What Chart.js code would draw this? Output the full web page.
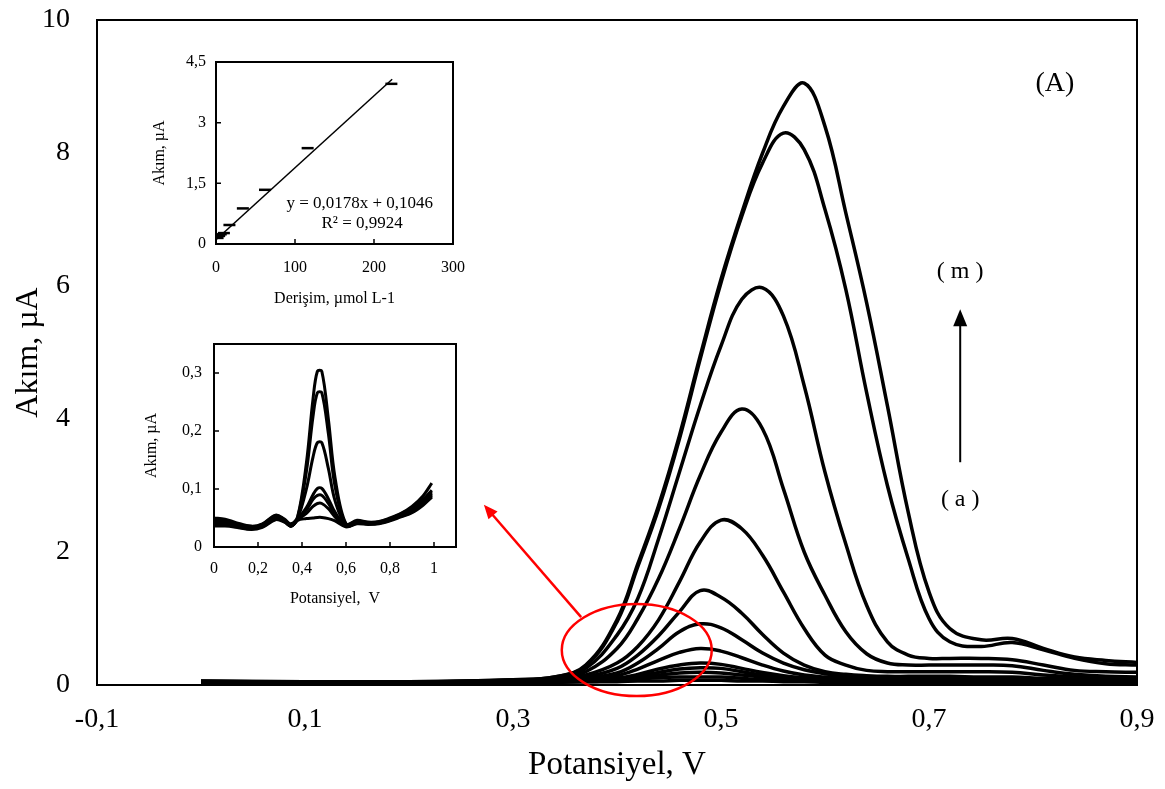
<!DOCTYPE html>
<html>
<head>
<meta charset="utf-8">
<script src="https://cdn.jsdelivr.net/npm/chart.js@4.4.1/dist/chart.umd.min.js"></script>
<style>
    body { margin: 0; background: #fff; }
    #wrap { position: relative; width: 1165px; height: 789px; }
    canvas { position: absolute; }
</style>
</head>
<body>
<div id="wrap">
    <canvas id="mainChart" width="1165" height="789" style="left:0;top:0"></canvas>
    <canvas id="calChart" width="360" height="280" style="left:120px;top:40px"></canvas>
    <canvas id="insetChart" width="360" height="300" style="left:120px;top:325px"></canvas>
</div>
<script>
// Ana voltamogram: potansiyel ekseni (V)
const potential = [0, 0.1, 0.2, 0.3, 0.34, 0.37, 0.40, 0.42, 0.44, 0.46, 0.48, 0.50, 0.52, 0.54, 0.56, 0.58, 0.60, 0.62, 0.64, 0.66, 0.68, 0.70, 0.72, 0.75, 0.78, 0.81, 0.84, 0.87, 0.90];

// Akım değerleri (µA), a -> m
const curveA = [0.03,0.03,0.03,0.04,0.04,0.05,0.05,0.06,0.06,0.07,0.07,0.07,0.06,0.06,0.05,0.05,0.04,0.04,0.04,0.04,0.04,0.04,0.04,0.04,0.04,0.04,0.04,0.04,0.04];
const curveB = [0.03,0.03,0.03,0.04,0.05,0.05,0.07,0.09,0.11,0.12,0.12,0.12,0.1,0.08,0.07,0.06,0.06,0.05,0.05,0.05,0.05,0.05,0.05,0.05,0.05,0.05,0.05,0.05,0.05];
const curveC = [0.03,0.03,0.03,0.04,0.05,0.06,0.08,0.11,0.15,0.18,0.19,0.18,0.15,0.12,0.09,0.08,0.07,0.06,0.06,0.06,0.06,0.06,0.06,0.06,0.06,0.06,0.05,0.05,0.05];
const curveD = [0.03,0.03,0.03,0.05,0.05,0.06,0.09,0.13,0.19,0.24,0.26,0.25,0.2,0.15,0.11,0.09,0.08,0.07,0.07,0.07,0.07,0.07,0.07,0.07,0.07,0.06,0.06,0.06,0.05];
const curveE = [0.04,0.03,0.04,0.05,0.05,0.07,0.1,0.16,0.24,0.3,0.33,0.31,0.25,0.19,0.14,0.11,0.09,0.08,0.08,0.08,0.08,0.08,0.08,0.08,0.08,0.07,0.07,0.06,0.06];
const curveF = [0.04,0.03,0.04,0.05,0.06,0.08,0.14,0.24,0.37,0.49,0.55,0.51,0.41,0.3,0.21,0.15,0.12,0.1,0.09,0.09,0.09,0.09,0.09,0.09,0.09,0.08,0.07,0.07,0.06];
const curveG = [0.04,0.04,0.04,0.05,0.06,0.1,0.18,0.33,0.55,0.8,0.92,0.86,0.68,0.48,0.33,0.23,0.17,0.13,0.11,0.1,0.1,0.1,0.1,0.1,0.1,0.09,0.08,0.07,0.07];
const curveH = [0.04,0.04,0.04,0.06,0.07,0.12,0.25,0.45,0.74,1.1,1.42,1.32,1.08,0.76,0.48,0.3,0.2,0.16,0.14,0.13,0.13,0.13,0.13,0.12,0.12,0.1,0.09,0.08,0.08];
const curveI = [0.04,0.04,0.04,0.06,0.08,0.15,0.33,0.58,0.98,1.55,2.15,2.48,2.35,1.95,1.4,0.85,0.45,0.3,0.22,0.2,0.2,0.2,0.2,0.2,0.19,0.15,0.12,0.1,0.1];
const curveJ = [0.05,0.04,0.04,0.06,0.09,0.2,0.55,1.0,1.6,2.35,3.15,3.8,4.15,3.85,2.95,2.0,1.35,0.8,0.47,0.33,0.3,0.3,0.3,0.3,0.29,0.22,0.16,0.13,0.12];
const curveK = [0.05,0.04,0.04,0.07,0.1,0.25,0.75,1.3,2.2,3.2,4.2,5.1,5.8,5.97,5.55,4.5,3.2,2.12,1.2,0.65,0.45,0.4,0.4,0.4,0.38,0.3,0.22,0.2,0.19];
const curveL = [0.06,0.05,0.05,0.08,0.12,0.29,0.95,1.78,2.65,3.7,4.9,6.05,7.05,7.85,8.3,8.05,7.15,5.95,4.4,3.0,1.9,1.0,0.65,0.58,0.64,0.53,0.4,0.32,0.3];
const curveM = [0.06,0.05,0.05,0.08,0.12,0.3,0.98,1.82,2.7,3.75,4.95,6.1,7.1,8.0,8.7,9.05,8.4,7.1,5.75,4.2,2.6,1.4,0.85,0.68,0.7,0.55,0.42,0.37,0.34];
const mainCurves = [curveA, curveB, curveC, curveD, curveE, curveF, curveG, curveH, curveI, curveJ, curveK, curveL, curveM];

const mainXTicks = [-0.1, 0.1, 0.3, 0.5, 0.7, 0.9];
const mainYTicks = [0, 2, 4, 6, 8, 10];

// Kalibrasyon grafiği (derişim µmol L-1, akım µA)
const calConc = [2, 4, 6, 10, 17, 34, 62, 116, 222];
const calCurrent = [0.15, 0.2, 0.24, 0.27, 0.47, 0.88, 1.34, 2.37, 3.96];
const trendConc = [0, 223];
const trendCurrent = [0.105, 4.074];
const calXTicks = [0, 100, 200, 300];
const calYTicks = [0, 1.5, 3, 4.5];

// Küçük voltamogram (düşük derişimler)
const insetPotential = [0, 0.05, 0.1, 0.17, 0.22, 0.28, 0.32, 0.35, 0.38, 0.42, 0.45, 0.47, 0.49, 0.52, 0.55, 0.6, 0.65, 0.7, 0.75, 0.8, 0.85, 0.9, 0.95, 0.99];
const low1 = [0.05,0.048,0.042,0.036,0.04,0.055,0.048,0.04,0.052,0.145,0.255,0.303,0.303,0.22,0.12,0.04,0.046,0.043,0.044,0.05,0.058,0.07,0.088,0.11];
const low2 = [0.048,0.046,0.04,0.035,0.039,0.054,0.047,0.038,0.051,0.13,0.225,0.266,0.266,0.195,0.105,0.039,0.045,0.042,0.043,0.049,0.057,0.068,0.082,0.098];
const low3 = [0.045,0.044,0.039,0.034,0.038,0.052,0.046,0.037,0.049,0.1,0.155,0.18,0.18,0.135,0.08,0.038,0.044,0.041,0.042,0.048,0.056,0.066,0.08,0.095];
const low4 = [0.043,0.042,0.037,0.033,0.037,0.05,0.045,0.036,0.048,0.068,0.09,0.101,0.101,0.083,0.06,0.037,0.043,0.041,0.042,0.047,0.055,0.064,0.078,0.092];
const low5 = [0.04,0.04,0.036,0.032,0.036,0.049,0.044,0.036,0.047,0.064,0.082,0.089,0.089,0.075,0.056,0.036,0.042,0.04,0.041,0.047,0.054,0.062,0.076,0.09];
const low6 = [0.038,0.038,0.035,0.031,0.035,0.048,0.044,0.036,0.047,0.058,0.07,0.075,0.075,0.066,0.052,0.035,0.041,0.04,0.041,0.046,0.053,0.06,0.074,0.088];
const low7 = [0.036,0.036,0.034,0.03,0.034,0.047,0.043,0.036,0.046,0.049,0.05,0.051,0.051,0.049,0.045,0.035,0.04,0.039,0.04,0.045,0.052,0.059,0.072,0.086];
const insetCurves = [low1, low2, low3, low4, low5, low6, low7];
const insetXTicks = [0, 0.2, 0.4, 0.6, 0.8, 1];
const insetYTicks = [0, 0.1, 0.2, 0.3];

const FONT = '"Liberation Serif", "Times New Roman", serif';
Chart.defaults.font.family = FONT;
Chart.defaults.color = '#000';

// Ondalık ayırıcı virgül
const fmt = v => String(v).replace('.', ',');
const setTicks = list => scale => { scale.ticks = list.map(v => ({ value: v })); };
// Eksen boyutlarını sabitle, etiket taşmalarını yok say
const fixHeight = h => s => { s.height = h; s.paddingLeft = 0; s.paddingRight = 0; };
const fixWidth = w => s => { s.width = w; s.paddingTop = 0; s.paddingBottom = 0; };

// Çerçeve ve iç tik çizgileri
const frameBox = {
    id: 'frameBox',
    afterDraw(chart, args, opts) {
        const { ctx, chartArea: a } = chart;
        ctx.save();
        ctx.strokeStyle = '#000';
        ctx.lineWidth = opts.width || 2;
        ctx.strokeRect(a.left, a.top, a.right - a.left, a.bottom - a.top);
        if (opts.tickLen) {
            const L = opts.tickLen;
            const xs = chart.scales.x, ys = chart.scales.y;
            ctx.lineWidth = 1.5;
            ctx.beginPath();
            xs.ticks.forEach(t => {
                const px = xs.getPixelForValue(t.value);
                ctx.moveTo(px, a.bottom);
                ctx.lineTo(px, a.bottom - L);
            });
            ys.ticks.forEach(t => {
                const py = ys.getPixelForValue(t.value);
                ctx.moveTo(a.left, py);
                ctx.lineTo(a.left + L, py);
            });
            ctx.stroke();
        }
        ctx.restore();
    }
};

function arrowHead(ctx, x0, y0, x1, y1, len, half) {
    const ang = Math.atan2(y1 - y0, x1 - x0);
    ctx.beginPath();
    ctx.moveTo(x1, y1);
    ctx.lineTo(x1 - len * Math.cos(ang) + half * Math.sin(ang), y1 - len * Math.sin(ang) - half * Math.cos(ang));
    ctx.lineTo(x1 - len * Math.cos(ang) - half * Math.sin(ang), y1 - len * Math.sin(ang) + half * Math.cos(ang));
    ctx.closePath();
    ctx.fill();
}

// Ana grafik üzerindeki notlar
const mainNotes = {
    id: 'mainNotes',
    afterDraw(chart) {
        const { ctx, scales: { x, y } } = chart;
        const X = v => x.getPixelForValue(v), Y = v => y.getPixelForValue(v);
        ctx.save();
        ctx.fillStyle = '#000';
        ctx.textAlign = 'center';
        ctx.textBaseline = 'middle';
        ctx.font = '28px ' + FONT;
        ctx.fillText('(A)', X(0.821), Y(9.05));
        ctx.font = '24px ' + FONT;
        ctx.fillText('( m )', X(0.73), Y(6.21));
        ctx.fillText('( a )', X(0.73), Y(2.78));

        // yukarı ok
        ctx.strokeStyle = '#000';
        ctx.lineWidth = 2;
        ctx.beginPath();
        ctx.moveTo(X(0.73), Y(3.35));
        ctx.lineTo(X(0.73), Y(5.4));
        ctx.stroke();
        arrowHead(ctx, X(0.73), Y(3.35), X(0.73), Y(5.65), 17, 7);

        // kırmızı elips ve ok
        ctx.strokeStyle = '#ff0000';
        ctx.fillStyle = '#ff0000';
        ctx.lineWidth = 2.5;
        ctx.beginPath();
        ctx.ellipse(X(0.419), Y(0.526), X(0.419) - X(0.3469), Y(0.526) - Y(1.218), 0, 0, Math.PI * 2);
        ctx.stroke();
        const sx = X(0.3655), sy = Y(1.02), ex = X(0.272), ey = Y(2.71);
        ctx.beginPath();
        ctx.moveTo(sx, sy);
        ctx.lineTo(ex + (sx - ex) * 0.08, ey + (sy - ey) * 0.08);
        ctx.stroke();
        arrowHead(ctx, sx, sy, ex, ey, 14, 6);
        ctx.restore();
    }
};

// Kalibrasyon denklemi
const calNotes = {
    id: 'calNotes',
    afterDraw(chart) {
        const { ctx, scales: { x, y } } = chart;
        ctx.save();
        ctx.fillStyle = '#000';
        ctx.textAlign = 'center';
        ctx.textBaseline = 'middle';
        ctx.font = '17px ' + FONT;
        ctx.fillText('y = 0,0178x + 0,1046', x.getPixelForValue(182), y.getPixelForValue(1.01));
        ctx.fillText('R² = 0,9924', x.getPixelForValue(185), y.getPixelForValue(0.5));
        ctx.restore();
    }
};

const toPoints = (xs, ys) => xs.map((x, i) => ({ x: x, y: ys[i] }));

// Ana grafik
new Chart(document.getElementById('mainChart'), {
    type: 'line',
    data: {
        datasets: mainCurves.map(ys => ({
            data: toPoints(potential, ys),
            borderColor: '#000',
            borderWidth: 3.5,
            pointRadius: 0,
            fill: false,
            tension: 0.4
        }))
    },
    options: {
        responsive: false,
        animation: false,
        devicePixelRatio: 1,
        layout: { padding: { left: 0, top: 20, right: 28, bottom: 0 } },
        plugins: { legend: { display: false }, tooltip: { enabled: false }, frameBox: { width: 2 } },
        scales: {
            x: {
                type: 'linear',
                min: -0.1,
                max: 0.9,
                afterBuildTicks: setTicks(mainXTicks),
                afterFit: fixHeight(104),
                grid: { display: false, drawTicks: false },
                border: { display: false },
                ticks: { callback: fmt, font: { size: 28 }, padding: 18, maxRotation: 0, autoSkip: false },
                title: { display: true, text: 'Potansiyel, V', font: { size: 33 }, padding: { top: 0, bottom: 4 } }
            },
            y: {
                min: 0,
                max: 10,
                afterBuildTicks: setTicks(mainYTicks),
                afterFit: fixWidth(97),
                grid: { display: false, drawTicks: false },
                border: { display: false },
                ticks: { callback: fmt, font: { size: 28 }, padding: 27 },
                title: { display: true, text: 'Akım, µA', font: { size: 32 }, padding: { top: 9, bottom: 0 } }
            }
        }
    },
    plugins: [frameBox, mainNotes]
});

// Kalibrasyon grafiği
new Chart(document.getElementById('calChart'), {
    type: 'scatter',
    data: {
        datasets: [
            {
                data: toPoints(calConc, calCurrent),
                pointStyle: 'line',
                pointRadius: 6,
                borderColor: '#000',
                borderWidth: 2.5
            },
            {
                data: toPoints(trendConc, trendCurrent),
                showLine: true,
                pointRadius: 0,
                borderColor: '#000',
                borderWidth: 1.5
            }
        ]
    },
    options: {
        responsive: false,
        animation: false,
        devicePixelRatio: 1,
        layout: { padding: { left: 0, top: 22, right: 27, bottom: 0 } },
        plugins: { legend: { display: false }, tooltip: { enabled: false }, frameBox: { width: 2, tickLen: 5 } },
        scales: {
            x: {
                min: 0,
                max: 300,
                afterBuildTicks: setTicks(calXTicks),
                afterFit: fixHeight(76),
                grid: { display: false, drawTicks: false },
                border: { display: false },
                ticks: { callback: fmt, font: { size: 16 }, padding: 14, maxRotation: 0 },
                title: { display: true, text: 'Derişim, µmol L-1', font: { size: 16 }, padding: { top: 0, bottom: 12 } }
            },
            y: {
                min: 0,
                max: 4.5,
                afterBuildTicks: setTicks(calYTicks),
                afterFit: fixWidth(96),
                grid: { display: false, drawTicks: false },
                border: { display: false },
                ticks: { callback: fmt, font: { size: 16 }, padding: 10 },
                title: { display: true, text: 'Akım, µA', font: { size: 16 }, padding: { top: 30, bottom: 0 } }
            }
        }
    },
    plugins: [frameBox, calNotes]
});

// Düşük derişim voltamogramı
new Chart(document.getElementById('insetChart'), {
    type: 'line',
    data: {
        datasets: insetCurves.map(ys => ({
            data: toPoints(insetPotential, ys),
            borderColor: '#000',
            borderWidth: 3,
            pointRadius: 0,
            fill: false,
            tension: 0.35
        }))
    },
    options: {
        responsive: false,
        animation: false,
        devicePixelRatio: 1,
        layout: { padding: { left: 0, top: 19, right: 24, bottom: 0 } },
        plugins: { legend: { display: false }, tooltip: { enabled: false }, frameBox: { width: 2, tickLen: 5 } },
        scales: {
            x: {
                type: 'linear',
                min: 0,
                max: 1.1,
                afterBuildTicks: setTicks(insetXTicks),
                afterFit: fixHeight(78),
                grid: { display: false, drawTicks: false },
                border: { display: false },
                ticks: { callback: fmt, font: { size: 16 }, padding: 12, maxRotation: 0, autoSkip: false },
                title: { display: true, text: 'Potansiyel,  V', font: { size: 16 }, padding: { top: 0, bottom: 17 } }
            },
            y: {
                min: 0,
                max: 0.35,
                afterBuildTicks: setTicks(insetYTicks),
                afterFit: fixWidth(94),
                grid: { display: false, drawTicks: false },
                border: { display: false },
                ticks: { callback: fmt, font: { size: 16 }, padding: 12 },
                title: { display: true, text: 'Akım, µA', font: { size: 16 }, padding: { top: 22, bottom: 0 } }
            }
        }
    },
    plugins: [frameBox]
});
</script>
</body>
</html>
